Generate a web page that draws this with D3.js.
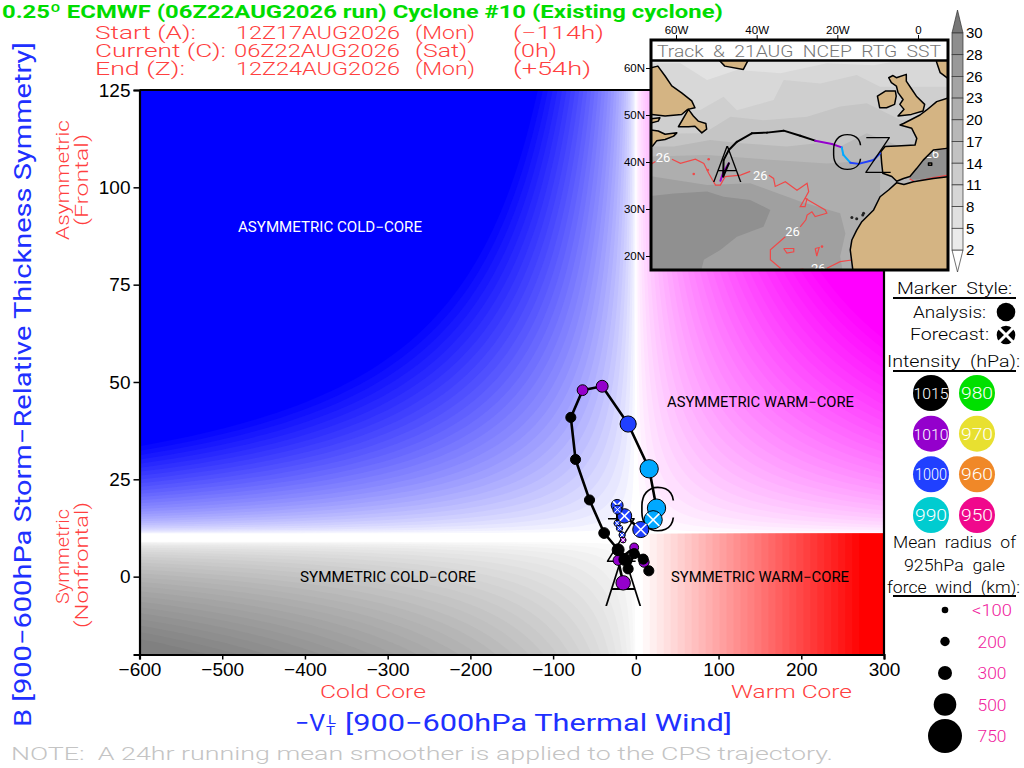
<!DOCTYPE html>
<html>
<head>
<meta charset="utf-8">
<script src="https://cdn.jsdelivr.net/npm/d3@7/dist/d3.min.js"></script>
<style>
  html, body { margin: 0; padding: 0; background: #fff; }
  svg { display: block; }
  text { font-family: Roboto, "Liberation Sans", sans-serif; font-weight: 400; }
  .axis text { font-family: "Liberation Sans", sans-serif; font-weight: 400; fill: #000; }
</style>
</head>
<body>
<svg id="chart" width="1024" height="768"></svg>
<script>
// ---------- CPS trajectory: thermal wind, symmetry, intensity, gale radius ----------
const cpsV = [-15.3, -21.4, -2, 10, 15.7, 8.9, -2, -9.3, -13.3, -21.4, -38.3, -56, -72.9, -78.6, -64.4, -40.7, -9.3, 16.1, 25,
  20.9, 6, -13.7, -22.6, -22.2, -22.6, -19.7, -16.6, -15.3];
const cpsB = [-1.6, 4.2, 7.5, 3.7, 1.5, 4.5, 5.9, 2, 4.4, 6.9, 11.2, 19.7, 30.1, 40.9, 47.9, 48.9, 39.2, 27.7, 17.6,
  14.6, 12.1, 15.6, 18.3, 17.2, 13.7, 12.4, 10.7, 9.4];
const cpsHpa = [1010, 1010, 1010, 1010, 1015, 1015, 1015, 1015, 1015, 1015, 1015, 1015, 1015, 1015, 1010, 1010, 1000, 995, 995,
  995, 1000, 1000, 1000, 1000, 1000, 1000, 1000, 1010];
const cpsRadius = [310, 215, 180, 215, 215, 215, 215, 215, 255, 255, 230, 215, 215, 215, 230, 255, 350, 400, 400,
  400, 350, 310, 255, 190, 90, 90, 90, 70];
const currentIndex = 18; // last analysis point, everything after it is forecast

// ---------- legends ----------
const intensityLeft = [1015, 1010, 1000, 990];
const intensityRight = [980, 970, 960, 950];
const radiusKm = [100, 200, 300, 500, 750];
const radiusLabels = ["<100", "200", "300", "500", "750"];
const radiusPx = [3.3, 4.7, 7, 11.3, 17];
const hpaLevels = [1015, 1010, 1000, 995, 990, 980, 970, 960, 950];
const hpaColors = ["#000000", "#9400cc", "#2040ff", "#00a8ff", "#00ccd0", "#00e000", "#e8e030", "#f08828", "#f0088c"];

// ---------- axes ----------
const xTicks = [-600, -500, -400, -300, -200, -100, 0, 100, 200, 300];
const yTicks = [0, 25, 50, 75, 100, 125];
const lonTicks = [-60, -40, -20, 0];
const latTicks = [60, 50, 40, 30, 20];
const sstLevels = [30, 28, 26, 23, 20, 17, 14, 11, 8, 5, 2];
const sstColors = ["#8e8e8e", "#999999", "#a4a4a4", "#aeaeae", "#b8b8b8", "#c2c2c2", "#cccccc", "#d6d6d6", "#e0e0e0", "#ebebeb"];

// ---------- map: track, in lon/lat ----------
const trackLon = [-49, -48.2, -46.9, -48.3, -48.2, -46.9, -44.9, -41.2, -37.45, -33.3, -29.2, -25.5, -21.35, -18.9, -18.5, -16.8, -14.75, -11, -9.4];
const trackLat = [36, 37.95, 39.7, 36.9, 40.4, 42.55, 44.3, 46.1, 46.25, 46.67, 45.6, 44.54, 43.83, 43.12, 41.5, 39.86, 39.6, 40.43, 41.85];
const trackHpa = [1010, 1010, 1010, 1015, 1015, 1015, 1015, 1015, 1015, 1015, 1015, 1015, 1010, 1010, 995, 995, 1000, 1000, 1000];

// ---------- map: land outlines ----------
const labrador = [[-67.7, 60], [-66.2, 60.06], [-64.5, 60.4], [-62.7, 58.3], [-61.05, 56.2], [-58.6, 54.7], [-56.1, 53], [-55.3, 51.55], [-57.1, 51.2], [-58.6, 50.1], [-62.7, 49.8], [-66, 50.1], [-67.7, 50.1]];
const newfoundland = [[-59.4, 47.5], [-56.9, 51.2], [-55.7, 49.8], [-54.5, 48.7], [-52.6, 48.2], [-52.4, 47], [-53.6, 46.2], [-55.3, 47.6], [-56.9, 47.5]];
const gaspe = [[-67.7, 49.1], [-64, 49.4], [-64.4, 48.7], [-67.7, 48]];
const maritimes = [[-67.7, 47], [-64.4, 46.6], [-62.7, 45.9], [-59.8, 46.2], [-60.6, 45.5], [-62.7, 44.8], [-64.8, 44.5], [-65.8, 43.4], [-67.7, 43]];
const greenland = [[-49.1, 66], [-49.1, 61.5], [-47.9, 60.4], [-43.3, 59.7], [-42.2, 61.5], [-42.2, 66]];
const ireland = [[-10.06, 54.03], [-8.1, 55.1], [-5.6, 55.1], [-5.4, 54], [-5.8, 52.26], [-7.8, 51.55], [-9.5, 51.55]];
const britain = [[-7.26, 57.93], [-6.2, 58.4], [-5.36, 57.93], [-2.9, 58.64], [-2.9, 57.2], [-1.8, 55.8], [-0.4, 54], [1.65, 52.26], [1.24, 50.84], [-1.65, 50.13], [-4.95, 49.8], [-3.46, 51.2], [-4.5, 52.26], [-3.7, 53.3], [-4.95, 54.75], [-5.36, 56.16], [-6.6, 56.87]];
const norway = [[4.6, 66], [4.6, 61.3], [5.5, 59], [7.4, 57.8], [9, 57.8], [9, 66]];
const europe = [[9, 53.55], [7.27, 53.55], [4.63, 52.84], [2.16, 51.07], [0.5, 50], [-3.6, 48.2], [-4.45, 47.87], [-1.55, 47.17], [-0.3, 45.04], [-0.73, 43.62], [-5.27, 43.4], [-8.16, 43.3], [-9.23, 42.2], [-9, 39.7], [-8.73, 37.6], [-6.5, 36.9], [-5.27, 35.9], [-3.6, 36.5], [-2, 36.9], [-0.3, 38.65], [1.3, 40.4], [3.8, 42.55], [7.1, 42.9], [9, 42.9]];
const africa = [[-5.27, 35.6], [-7.3, 34.05], [-9.4, 32.6], [-11, 29.8], [-13.93, 27.3], [-15.2, 25.5], [-16.4, 23.4], [-16.8, 21.3], [-16, 16], [9, 16], [9, 37], [3.8, 36.5], [-1.15, 35.8], [-3.5, 35.2]];
const majorca = [[2.6, 39.8], [3.4, 39.8], [3.4, 39.3], [2.6, 39.3]];
const canaryLon = [-16.4, -15.2, -13.7, -13.5];
const canaryLat = [28.2, 27.9, 28.7, 29.1];

// ---------- map: SST shading, warmer areas painted over colder ones ----------
const sstBand1 = [[-68, 61], [-58.9, 61], [-52.3, 57.45], [-44.9, 59.6], [-34.1, 58.9], [-22.6, 61], [-11, 60.6], [-6.1, 61.35], [9, 61.35], [9, 16], [-68, 16]];
const sstBand2 = [[-68, 51], [-54, 51.07], [-48.2, 53.9], [-44.9, 51], [-35.8, 53.2], [-33.3, 57.45], [-24.2, 56.7], [-15.2, 58.5], [-9.4, 56], [9, 56], [9, 16], [-68, 16]];
const sstBand3 = [[-68, 46], [-53.1, 46.1], [-46.5, 49.65], [-38.3, 48.9], [-27.5, 49.65], [-19.3, 51.8], [-12.7, 52.5], [-4.4, 49], [9, 49], [9, 16], [-68, 16]];
const sstBand4 = [[-68, 43.3], [-60.55, 43.3], [-51.5, 44.7], [-44, 44], [-32.5, 43.3], [-25.1, 44], [-19.3, 43.3], [-12.7, 46.1], [-4.4, 43.3], [9, 43.3], [9, 16], [-68, 16]];
const sstBand5 = [[-68, 41.1], [-52.3, 41.5], [-35.8, 40.4], [-22.6, 39.7], [-9.4, 40.4], [-9.4, 16], [-68, 16]];
const sstBand6 = [[-68, 37.2], [-52.3, 35.1], [-41.6, 35.5], [-29.2, 31.6], [-19.3, 29.1], [-18, 24.8], [-19.3, 19.9], [-18.5, 16], [-68, 16]];
const sstBand7 = [[-68, 32.6], [-60.55, 33.3], [-52.3, 33.7], [-48.2, 32.6], [-41.6, 31.9], [-36.6, 29.8], [-38.3, 26.2], [-44.9, 24.1], [-49, 21.3], [-53.1, 19.2], [-54, 16], [-68, 16]];
const medSea = [[-2, 36.9], [-0.3, 38.65], [1.3, 40.4], [3.8, 42.55], [9, 42.9], [9, 36.2], [-2, 36.2]];
const sstBands = [sstBand1, sstBand2, sstBand3, sstBand4, sstBand5, sstBand6, sstBand7, medSea];
const sstBandColors = ["#d8d8d8", "#cfcfcf", "#c5c5c5", "#b9b9b9", "#aeaeae", "#a0a0a0", "#909090", "#909090"];

// ---------- map: the 26C isotherm ----------
const iso1 = [[-66.1, 39.6], [-65.1, 40.1]];
const iso2 = [[-61, 40.6], [-58.9, 39.7], [-55.2, 40.6], [-53.1, 39.7], [-51.9, 37.6], [-50.2, 35.1], [-49, 35.1], [-47.8, 36.9], [-44, 37.2], [-41.6, 38]];
const iso3 = [[-37, 37.2], [-35.8, 36.5], [-35.4, 34.8], [-32.9, 35.8], [-30, 34], [-27.5, 35.5], [-27.1, 33.7], [-28, 32.3], [-23, 29.8], [-22.6, 29.1], [-25.5, 28.4], [-26.3, 29.4], [-27.5, 28.7], [-27.8, 27.7], [-29.2, 26.2]];
const iso4 = [[-32.9, 24.1], [-36.6, 21.3], [-36.6, 19.2], [-34.1, 17.4]];
const iso5 = [[-28, 32.3], [-29.2, 30.5], [-28, 30.5], [-27.5, 32.3]];
const iso6 = [[-33.3, 21.6], [-30.8, 21.6], [-30.8, 20.9], [-32.5, 20.6], [-33.3, 21.6]];
const iso7 = [[-25.5, 21.6], [-24.5, 21.8], [-25.1, 20], [-25.5, 21.6]];
const iso8 = [[-22.6, 17.4], [-19.3, 18.8], [-16.4, 19.15]];
const iso9 = [[-31.7, 16.9], [-28.4, 17.2]];
const iso10 = [[-2.1, 36.4], [-0.7, 35.8], [3.8, 36.7], [7.5, 37.2]];
const iso11 = [[4.6, 42.8], [6.7, 42.9]];
const isoLines = [iso1, iso2, iso3, iso4, iso5, iso6, iso7, iso8, iso9, iso10, iso11];
const isoDotLon = [-55.6, -52.1, -51.9, -23.8];
const isoDotLat = [37.45, 38.3, 40.6, 22];
const isoLabelLon = [-63.2, -39.1, -31.1, -24.7, 3.4];
const isoLabelLat = [41.1, 37.2, 25.4, 17.5, 42];
const mapLetters = ["A", "C", "Z"];
const mapLetterLon = [-47.3, -17.6, -9.9];
const mapLetterLat = [39.5, 42.1, 41.5];

// ---------- set up ----------
const svg = d3.select("#chart");
const plot = { left: 139.5, right: 884, top: 90, bottom: 654.5 };
const xScale = d3.scaleLinear().domain([-600, 300]).range([plot.left, plot.right]);
const yScale = d3.scaleLinear().domain([-20, 125]).range([plot.bottom, plot.top]);
const colorOf = d3.scaleOrdinal().domain(hpaLevels).range(hpaColors);
const radiusOf = d3.scaleLinear().domain(radiusKm).range(radiusPx);

// text helper: every label is fitted to the width it has in the picture
const label = (parent, str, x, y, width, opts = {}) => {
    const t = parent.append("text")
        .attr("transform", `translate(${x},${y})` + (opts.rotate ? ` rotate(${opts.rotate})` : ""))
        .attr("font-size", opts.size || 18)
        .attr("fill", opts.color || "#000")
        .style("font-weight", opts.weight || 400)
        .text(str);
    if (opts.anchor) t.attr("text-anchor", opts.anchor);
    if (width) t.attr("textLength", width).attr("lengthAdjust", "spacingAndGlyphs");
    return t;
};

// ---------- quadrant shading ----------
const defs = svg.append("defs");
const bg = svg.append("g");
bg.append("rect").attr("x", plot.left).attr("y", plot.top)
    .attr("width", plot.right - plot.left).attr("height", plot.bottom - plot.top).attr("fill", "#fff");

// background ramp only, not chart data: colour saturates with |V| * |B - B0|
const shadeQuadrant = (color, side, up, b0, full, power, steps) => {
    const bMax = up ? 125 - b0 : b0 + 20;
    const xMax = side < 0 ? 600 : 300;
    d3.range(1, steps + 1).forEach(i => {
        const t = i / steps;
        const product = full * Math.pow(t, 1 / power);
        const dxMin = product / bMax;
        const samples = d3.range(0, 61).map(k => dxMin * Math.pow(xMax / dxMin, k / 60)).filter(d => d <= xMax);
        if (dxMin >= xMax) return;
        const area = d3.area()
            .x(d => xScale(side * d))
            .y0(yScale(up ? 125 : -20))
            .y1(d => yScale(b0 + (up ? 1 : -1) * product / d));
        bg.append("path").attr("d", area(samples)).attr("fill", d3.interpolateRgb("#fff", color)(t));
    });
};
shadeQuadrant("#0000ff", -1, true, 11, 13500, 0.6, 32);
shadeQuadrant("#ff00ff", 1, true, 11, 15000, 0.6, 32);
shadeQuadrant("#808080", -1, false, 9, 15000, 0.5, 28);

// warm symmetric quadrant only depends on V
d3.range(1, 33).forEach(i => {
    const t = i / 32;
    bg.append("rect")
        .attr("x", xScale(t * 270)).attr("y", yScale(11))
        .attr("width", xScale(300) - xScale(t * 270)).attr("height", yScale(-20) - yScale(11))
        .attr("fill", d3.interpolateRgb("#fff", "#ff0000")(t));
});

// ---------- axes ----------
const xAxis = d3.axisBottom(xScale).tickValues(xTicks).tickSize(5).tickPadding(3);
const yAxis = d3.axisLeft(yScale).tickValues(yTicks).tickSize(6).tickPadding(3);
const gx = svg.append("g").attr("class", "axis").attr("transform", `translate(0,${plot.bottom})`).call(xAxis);
const gy = svg.append("g").attr("class", "axis").attr("transform", `translate(${plot.left},0)`).call(yAxis);
[gx, gy].forEach(g => {
    g.selectAll("text").attr("font-size", 19);
    g.selectAll("line").attr("stroke", "#000").attr("stroke-width", 1.5);
    g.select(".domain").attr("stroke", "#000").attr("stroke-width", 2.2);
});
svg.append("line").attr("x1", plot.left).attr("x2", plot.right).attr("y1", plot.top).attr("y2", plot.top).attr("stroke", "#000").attr("stroke-width", 2.2);
svg.append("line").attr("x1", plot.right).attr("x2", plot.right).attr("y1", plot.top).attr("y2", plot.bottom).attr("stroke", "#000").attr("stroke-width", 2.2);

// ---------- region names ----------
label(svg, "ASYMMETRIC COLD\u2212CORE", 238, 232, 184, { size: 14, color: "#fff" });
label(svg, "ASYMMETRIC  WARM\u2212CORE", 667, 407, 187, { size: 14 });
label(svg, "SYMMETRIC COLD\u2212CORE", 300, 582, 176, { size: 14 });
label(svg, "SYMMETRIC  WARM\u2212CORE", 671, 582, 178, { size: 14 });

// ---------- CPS trajectory ----------
const cpsLine = d3.line().x(i => xScale(cpsV[i])).y(i => yScale(cpsB[i]));
const cpsG = svg.append("g");
cpsG.append("path").attr("d", cpsLine(d3.range(cpsV.length)))
    .attr("fill", "none").attr("stroke", "#000").attr("stroke-width", 2.6).attr("stroke-linejoin", "round");
const bigLetter = (parent, str, cx, cy, height, width) => {
    parent.append("text")
        .attr("x", cx).attr("y", cy + height / 2)
        .attr("text-anchor", "middle")
        .attr("font-size", height / 0.711)
        .attr("textLength", width).attr("lengthAdjust", "spacingAndGlyphs")
        .style("font-weight", 100).attr("fill", "#000").text(str);
};
bigLetter(cpsG, "A", xScale(cpsV[0]), yScale(cpsB[0]) - 3, 53, 38);
bigLetter(cpsG, "C", xScale(cpsV[currentIndex]) + 1, yScale(cpsB[currentIndex]) + 1, 44, 42);
bigLetter(cpsG, "Z", xScale(cpsV[cpsV.length - 1]) - 2, yScale(cpsB[cpsB.length - 1]), 44, 34);
cpsV.forEach((v, i) => {
    const cx = xScale(v), cy = yScale(cpsB[i]), r = radiusOf(cpsRadius[i]);
    cpsG.append("circle").attr("cx", cx).attr("cy", cy).attr("r", r)
        .attr("fill", colorOf(cpsHpa[i])).attr("stroke", "#000").attr("stroke-width", 1);
    if (i > currentIndex) {
        const k = r * 0.68;
        [[-k, -k, k, k], [-k, k, k, -k]].forEach(c => {
            cpsG.append("line").attr("x1", cx + c[0]).attr("y1", cy + c[1]).attr("x2", cx + c[2]).attr("y2", cy + c[3])
                .attr("stroke", "#fff").attr("stroke-width", r > 5 ? 1.6 : 1);
        });
    }
});

// ---------- inset map ----------
const mapBox = { left: 651, right: 948, top: 40, bottom: 270 };
const lonScale = d3.scaleLinear().domain([-60, 0]).range([676, 918]);
const latScale = d3.scaleLinear().domain([60, 20]).range([68, 256]);
const geoLine = d3.line().x(d => lonScale(d[0])).y(d => latScale(d[1]));

defs.append("clipPath").attr("id", "mapClip").append("rect")
    .attr("x", mapBox.left).attr("y", mapBox.top).attr("width", mapBox.right - mapBox.left).attr("height", mapBox.bottom - mapBox.top);
const map = svg.append("g").attr("clip-path", "url(#mapClip)");
map.append("rect").attr("x", mapBox.left).attr("y", mapBox.top)
    .attr("width", mapBox.right - mapBox.left).attr("height", mapBox.bottom - mapBox.top).attr("fill", "#e2e2e2");
sstBands.forEach((band, i) => {
    map.append("path").attr("d", geoLine(band) + "Z").attr("fill", sstBandColors[i]);
});

// 26C isotherm
isoLines.forEach(line => {
    map.append("path").attr("d", geoLine(line)).attr("fill", "none").attr("stroke", "#f04848").attr("stroke-width", 1.2);
});
isoDotLon.forEach((lon, i) => {
    map.append("circle").attr("cx", lonScale(lon)).attr("cy", latScale(isoDotLat[i])).attr("r", 1.3).attr("fill", "#f04848");
});
isoLabelLon.forEach((lon, i) => {
    map.append("text").attr("x", lonScale(lon)).attr("y", latScale(isoLabelLat[i]) + 5)
        .attr("text-anchor", "middle").attr("font-size", 13).attr("fill", "#fff").text("26");
});

// land
[labrador, newfoundland, gaspe, maritimes, greenland, ireland, britain, norway, europe, africa, majorca].forEach(shape => {
    map.append("path").attr("d", geoLine(shape) + "Z").attr("fill", "#d4b483")
        .attr("stroke", "#000").attr("stroke-width", 1.5).attr("stroke-linejoin", "round");
});
canaryLon.forEach((lon, i) => {
    map.append("circle").attr("cx", lonScale(lon)).attr("cy", latScale(canaryLat[i])).attr("r", 1.5).attr("fill", "#222");
});

// track
trackLon.slice(1).forEach((lon, i) => {
    map.append("line")
        .attr("x1", lonScale(trackLon[i])).attr("y1", latScale(trackLat[i]))
        .attr("x2", lonScale(lon)).attr("y2", latScale(trackLat[i + 1]))
        .attr("stroke", colorOf(trackHpa[i + 1])).attr("stroke-width", 2).attr("stroke-linecap", "round");
});
mapLetters.forEach((str, i) => {
    bigLetter(map, str, lonScale(mapLetterLon[i]), latScale(mapLetterLat[i]), 36, str === "C" ? 36 : 30);
});

// title strip and border
map.append("rect").attr("x", mapBox.left).attr("y", mapBox.top).attr("width", mapBox.right - mapBox.left).attr("height", 21).attr("fill", "#fff");
map.append("line").attr("x1", mapBox.left).attr("x2", mapBox.right).attr("y1", 60.5).attr("y2", 60.5).attr("stroke", "#000").attr("stroke-width", 2.5);
label(svg, "Track\u00a0\u00a0&\u00a0\u00a021AUG\u00a0\u00a0NCEP\u00a0\u00a0RTG\u00a0\u00a0SST", 657, 57, 284, { size: 16, color: "#777", weight: 300 });
svg.append("rect").attr("x", mapBox.left).attr("y", mapBox.top).attr("width", mapBox.right - mapBox.left).attr("height", mapBox.bottom - mapBox.top)
    .attr("fill", "none").attr("stroke", "#000").attr("stroke-width", 3);

// map ticks
const lonAxis = d3.axisTop(lonScale).tickValues(lonTicks).tickSize(5).tickPadding(1)
    .tickFormat(d => d === 0 ? "0" : `${-d}W`);
const latAxis = d3.axisLeft(latScale).tickValues(latTicks).tickSize(5).tickPadding(1)
    .tickFormat(d => `${d}N`);
const gLon = svg.append("g").attr("class", "axis").attr("transform", `translate(0,${mapBox.top})`).call(lonAxis);
const gLat = svg.append("g").attr("class", "axis").attr("transform", `translate(${mapBox.left},0)`).call(latAxis);
[gLon, gLat].forEach(g => {
    g.select(".domain").remove();
    g.selectAll("text").attr("font-size", 11.5);
    g.selectAll("line").attr("stroke", "#000");
});

// ---------- SST colour bar ----------
const barScale = d3.scalePoint().domain(sstLevels).range([33, 250]);
const barLeft = 952, barRight = 963, barMid = (barLeft + barRight) / 2;
const barG = svg.append("g");
const triangle = (tipY, baseY, fill) => {
    barG.append("path").attr("d", d3.line()([[barLeft, baseY], [barMid, tipY], [barRight, baseY]]) + "Z")
        .attr("fill", fill).attr("stroke", "#333").attr("stroke-width", 0.7);
};
triangle(10, barScale(30), "#777");
triangle(272, barScale(2), "#fff");
sstLevels.slice(1).forEach((lev, i) => {
    barG.append("rect").attr("x", barLeft).attr("y", barScale(sstLevels[i]))
        .attr("width", barRight - barLeft).attr("height", barScale(lev) - barScale(sstLevels[i]))
        .attr("fill", sstColors[i]).attr("stroke", "#333").attr("stroke-width", 0.7);
});
const gBar = svg.append("g").attr("class", "axis").attr("transform", `translate(${barRight},0)`)
    .call(d3.axisRight(barScale).tickSize(0).tickPadding(3));
gBar.select(".domain").remove();
gBar.selectAll("text").attr("font-size", 15);

// ---------- marker legend ----------
const legendRule = y => svg.append("line").attr("x1", 893).attr("x2", 1016).attr("y1", y).attr("y2", y).attr("stroke", "#000").attr("stroke-width", 2);
label(svg, "Marker\u00a0\u00a0Style:", 897, 294, 115, { size: 16, weight: 300 });
legendRule(298);
label(svg, "Analysis:", 913, 318, 73, { size: 16, weight: 300 });
svg.append("circle").attr("cx", 1006).attr("cy", 312).attr("r", 9.3).attr("fill", "#000");
label(svg, "Forecast:", 910, 340, 79, { size: 16, weight: 300 });
svg.append("circle").attr("cx", 1006).attr("cy", 335).attr("r", 9.3).attr("fill", "#000");
[[-9, -9, 9, 9], [-9, 9, 9, -9]].forEach(c => {
    svg.append("line").attr("x1", 1006 + c[0]).attr("y1", 335 + c[1]).attr("x2", 1006 + c[2]).attr("y2", 335 + c[3])
        .attr("stroke", "#fff").attr("stroke-width", 3);
});
label(svg, "Intensity\u00a0\u00a0(hPa):", 887, 367, 133, { size: 16, weight: 300 });
legendRule(371);

const legendRows = d3.scalePoint().domain(d3.range(4)).range([393, 515]);
[[intensityLeft, 931], [intensityRight, 977]].forEach(([levels, cx]) => {
    levels.forEach((lev, i) => {
        svg.append("circle").attr("cx", cx).attr("cy", legendRows(i)).attr("r", 18).attr("fill", colorOf(lev));
        label(svg, String(lev), cx, legendRows(i) + 6, lev > 1000 ? 35 : 32, { size: lev > 1000 ? 14.5 : 17, color: "#fff", anchor: "middle", weight: 300 });
    });
});

label(svg, "Mean\u00a0\u00a0radius\u00a0\u00a0of", 893, 548, 123, { size: 16, weight: 300 });
label(svg, "925hPa\u00a0\u00a0gale", 904, 571, 101, { size: 16, weight: 300 });
label(svg, "force\u00a0\u00a0wind\u00a0\u00a0(km):", 887, 593, 133, { size: 16, weight: 300 });
legendRule(596);

const radiusRows = d3.scalePoint().domain(radiusKm).range([610, 736]);
radiusKm.forEach((km, i) => {
    svg.append("circle").attr("cx", 945).attr("cy", radiusRows(km)).attr("r", radiusOf(km)).attr("fill", "#000");
    label(svg, radiusLabels[i], 992, radiusRows(km) + 6, i === 0 ? 40 : 29, { size: 16, color: "#f0209c", anchor: "middle", weight: 300 });
});

// ---------- titles ----------
label(svg, "0.25\u00ba ECMWF (06Z22AUG2026 run) Cyclone #10 (Existing cyclone)", 2, 18, 721, { size: 19, color: "#00dc00", weight: 700 });
const red = "#ff4040";
const headerRows = [
    ["Start (A):", 101, "12Z17AUG2026", 236, 164, "(Mon)", 60, "(\u2212114h)", 91, 39],
    ["Current (C):", 131, "06Z22AUG2026", 234, 166, "(Sat)", 52, "(0h)", 44, 57],
    ["End (Z):", 90, "12Z24AUG2026", 236, 164, "(Mon)", 60, "(+54h)", 78, 75]
];
headerRows.forEach(r => {
    const y = r[9];
    label(svg, r[0], 95, y, r[1], { size: 19, color: red, weight: 300 });
    label(svg, r[2], r[3], y, r[4], { size: 19, color: red, weight: 300 });
    label(svg, r[5], 415, y, r[6], { size: 19, color: red, weight: 300 });
    label(svg, r[7], 513, y, r[8], { size: 19, color: red, weight: 300 });
});

const blue = "#2030ff";
label(svg, "B [900\u2212600hPa Storm\u2212Relative Thickness Symmetry]", 31, 727, 685, { size: 24, color: blue, rotate: -90 });
label(svg, "Asymmetric", 69, 240, 120, { size: 19, color: red, rotate: -90, weight: 300 });
label(svg, "(Frontal)", 88, 226, 92, { size: 19, color: red, rotate: -90, weight: 300 });
label(svg, "Symmetric", 69, 604, 95, { size: 19, color: red, rotate: -90, weight: 300 });
label(svg, "(Nonfrontal)", 88, 628, 126, { size: 19, color: red, rotate: -90, weight: 300 });
label(svg, "Cold\u00a0Core", 320, 698, 106, { size: 19, color: red, weight: 300 });
label(svg, "Warm\u00a0Core", 731, 698, 121, { size: 19, color: red, weight: 300 });
label(svg, "\u2212V", 295, 731, 30, { size: 23, color: blue });
label(svg, "T", 326, 735, 9, { size: 12, color: blue });
label(svg, "L", 328, 724, 8, { size: 12, color: blue });
label(svg, "[900\u2212600hPa Thermal Wind]", 345, 731, 387, { size: 23, color: blue });
label(svg, "NOTE:\u00a0\u00a0A 24hr running mean smoother is applied to the CPS trajectory.", 11, 760, 822, { size: 19, color: "#c4c4c4", weight: 300 });
</script>
</body>
</html>
